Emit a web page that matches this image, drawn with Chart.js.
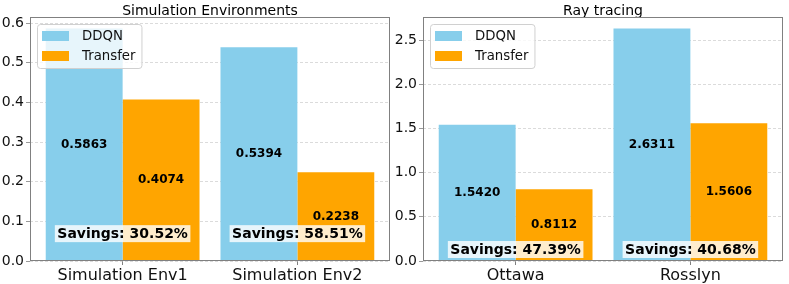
<!DOCTYPE html>
<html><head><meta charset="utf-8">
<script src="https://cdn.jsdelivr.net/npm/chart.js@4"></script>
<style>
html,body{margin:0;padding:0;background:#fff;}
#wrap{position:relative;width:789px;height:284px;overflow:hidden;background:#fff;}
canvas{position:absolute;top:0;}
</style>
</head><body>
<div id="wrap">
<canvas id="c1" width="395" height="284" style="left:0px"></canvas>
<canvas id="c2" width="394" height="284" style="left:395px"></canvas>
</div>
<script>
// ---- data ----
const seriesNames = ['DDQN', 'Transfer'];
const simCategories = ['Simulation Env1', 'Simulation Env2'];
const simDDQN = [0.5863, 0.5394];
const simTransfer = [0.4074, 0.2238];
const simSavings = ['30.52%', '58.51%'];
const simYMax = 0.6156;
const simYStep = 0.1;

const rayCategories = ['Ottawa', 'Rosslyn'];
const rayDDQN = [1.5420, 2.6311];
const rayTransfer = [0.8112, 1.5606];
const raySavings = ['47.39%', '40.68%'];
const rayYMax = 2.7627;
const rayYStep = 0.5;

const colors = ['#87CEEB', '#FFA500'];
const FONT = "'DejaVu Sans', sans-serif";
Chart.defaults.font.family = FONT;

function makeChart(id, cfg) {
  const overlay = {
    id: 'overlay_' + id,
    afterDatasetsDraw(chart) {
      const ctx = chart.ctx;
      ctx.save();
      ctx.font = 'bold 12px ' + FONT;
      ctx.fillStyle = '#000';
      ctx.textAlign = 'center';
      ctx.textBaseline = 'middle';
      chart.data.datasets.forEach((ds, di) => {
        const meta = chart.getDatasetMeta(di);
        meta.data.forEach((bar, i) => {
          const y = (bar.y + bar.base) / 2;
          ctx.fillText(ds.data[i].y.toFixed(4), bar.x, y);
        });
      });
      ctx.restore();
    },
    afterDraw(chart) {
      const ctx = chart.ctx;
      const a = chart.chartArea;
      ctx.save();
      // spines
      ctx.strokeStyle = '#808080';
      ctx.lineWidth = 1;
      ctx.strokeRect(Math.round(a.left) + 0.5, Math.round(a.top) + 0.5,
                     Math.round(a.right - a.left) - 1, Math.round(a.bottom - a.top) - 1);
      // savings boxes
      const m0 = chart.getDatasetMeta(0), m1 = chart.getDatasetMeta(1);
      const ys = chart.scales.y.getPixelForValue(cfg.savingsY);
      ctx.font = 'bold 14px ' + FONT;
      ctx.textAlign = 'center';
      ctx.textBaseline = 'middle';
      cfg.savings.forEach((s, i) => {
        const x = (m0.data[i].x + m1.data[i].x) / 2;
        const txt = 'Savings: ' + s;
        const w = ctx.measureText(txt).width + 5;
        const h = 17;
        ctx.fillStyle = 'rgba(255,255,255,0.8)';
        ctx.fillRect(x - w / 2, ys - h / 2, w, h);
        ctx.fillStyle = '#000';
        ctx.fillText(txt, x, ys + 0.5);
      });
      // legend
      ctx.font = '13.3px ' + FONT;
      let maxW = 0;
      chart.data.datasets.forEach(ds => { maxW = Math.max(maxW, ctx.measureText(ds.label).width); });
      const bx = a.left + 7.5, by = a.top + 7.5;
      const bw = 45 + maxW + 6, bh = 44;
      const r = 3;
      ctx.beginPath();
      ctx.moveTo(bx + r, by);
      ctx.lineTo(bx + bw - r, by);
      ctx.arcTo(bx + bw, by, bx + bw, by + r, r);
      ctx.lineTo(bx + bw, by + bh - r);
      ctx.arcTo(bx + bw, by + bh, bx + bw - r, by + bh, r);
      ctx.lineTo(bx + r, by + bh);
      ctx.arcTo(bx, by + bh, bx, by + bh - r, r);
      ctx.lineTo(bx, by + r);
      ctx.arcTo(bx, by, bx + r, by, r);
      ctx.closePath();
      ctx.fillStyle = 'rgba(255,255,255,0.8)';
      ctx.fill();
      ctx.strokeStyle = '#d0d0d0';
      ctx.stroke();
      ctx.textAlign = 'left';
      ctx.textBaseline = 'middle';
      chart.data.datasets.forEach((ds, di) => {
        const sy = by + 6.5 + di * 20;
        ctx.fillStyle = ds.backgroundColor;
        ctx.fillRect(bx + 4.5, sy, 27, 10);
        ctx.fillStyle = '#111';
        ctx.fillText(ds.label, bx + 44.5, sy + 5.5);
      });
      ctx.restore();
    }
  };

  const toPts = arr => arr.map((v, i) => ({ x: i, y: v }));

  return new Chart(document.getElementById(id), {
    type: 'bar',
    data: {
      datasets: [
        { label: seriesNames[0], data: toPts(cfg.ddqn), backgroundColor: colors[0], borderWidth: 0 },
        { label: seriesNames[1], data: toPts(cfg.transfer), backgroundColor: colors[1], borderWidth: 0 }
      ]
    },
    options: {
      responsive: false,
      animation: false,
      devicePixelRatio: 1,
      layout: { padding: { left: 0, right: cfg.padRight, top: 0, bottom: 0 } },
      categoryPercentage: 0.88,
      barPercentage: 1.0,
      plugins: {
        legend: { display: false },
        tooltip: { enabled: false },
        title: {
          display: true,
          fullSize: false,
          text: cfg.title,
          color: '#000',
          font: { size: 14, weight: 'normal', lineHeight: 1.2 },
          padding: { top: 2.5, bottom: -2.3 }
        }
      },
      scales: {
        x: {
          type: 'linear',
          offset: false,
          min: -0.53,
          max: cfg.categories.length - 1 + 0.53,
          grid: { display: true, offset: false, drawOnChartArea: false, drawTicks: true, tickLength: 4,
                  tickColor: '#808080' },
          border: { display: false },
          afterBuildTicks(scale) { scale.ticks = cfg.categories.map((c, i) => ({ value: i })); },
          ticks: {
            color: '#111', font: { size: 16 }, padding: 1, maxRotation: 0, autoSkip: false,
            callback: v => (cfg.categories[v] !== undefined) ? cfg.categories[v] : ''
          },
          afterFit(scale) { scale.height = 23; }
        },
        y: {
          min: 0,
          max: cfg.yMax,
          grid: { color: 'rgba(190,190,190,0.7)', lineWidth: 0.8, tickLength: 4,
                  tickColor: '#808080', tickBorderDash: [] },
          border: { display: false, dash: [3, 2] },
          ticks: {
            stepSize: cfg.yStep,
            includeBounds: false,
            color: '#111',
            font: { size: 14 },
            padding: 2,
            callback: v => Number(v).toFixed(1)
          },
          afterFit(scale) { scale.width = cfg.yAxisWidth; }
        }
      }
    },
    plugins: [overlay]
  });
}

makeChart('c1', {
  title: 'Simulation Environments',
  categories: simCategories, ddqn: simDDQN, transfer: simTransfer, savings: simSavings,
  yMax: simYMax, yStep: simYStep, savingsY: 0.069, yAxisWidth: 30, padRight: 5
});
makeChart('c2', {
  title: 'Ray tracing',
  categories: rayCategories, ddqn: rayDDQN, transfer: rayTransfer, savings: raySavings,
  yMax: rayYMax, yStep: rayYStep, savingsY: 0.13, yAxisWidth: 28, padRight: 6
});
</script>
</body></html>
